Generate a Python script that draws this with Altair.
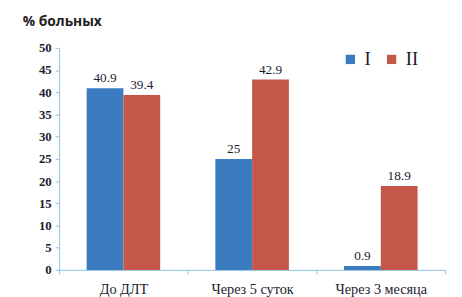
import altair as alt
import pandas as pd

categories = ["До ДЛТ", "Через 5 суток", "Через 3 месяца"]
series_names = ["I", "II"]
values_I = [40.9, 25, 0.9]
values_II = [39.4, 42.9, 18.9]
labels_I = ["40.9", "25", "0.9"]
labels_II = ["39.4", "42.9", "18.9"]

rows = []
for c, v, l in zip(categories, values_I, labels_I):
    rows.append({"cat": c, "grp": "I", "val": v, "lab": l})
for c, v, l in zip(categories, values_II, labels_II):
    rows.append({"cat": c, "grp": "II", "val": v, "lab": l})
df = pd.DataFrame(rows)

serif = "'Liberation Serif', 'Times New Roman', serif"
axis_col = "#8cc4e6"
text_col = "#1c1c30"

x = alt.X("cat:N", sort=categories, title=None,
          scale=alt.Scale(paddingInner=0, paddingOuter=0),
          axis=alt.Axis(labelAngle=0, tickBand="extent", labelFont=serif,
                        labelFontSize=14.5, labelColor=text_col, labelPadding=9,
                        domainColor=axis_col, tickColor=axis_col, tickSize=4))
xo = alt.XOffset("grp:N", sort=series_names,
                 scale=alt.Scale(paddingInner=0, paddingOuter=0.75))
y = alt.Y("val:Q", title=None,
          scale=alt.Scale(domain=[0, 50], nice=False),
          axis=alt.Axis(values=list(range(0, 51, 5)), grid=False, labelFont=serif,
                        labelFontSize=13, labelFontWeight="bold", labelColor=text_col,
                        domainColor=axis_col, tickColor=axis_col, tickSize=4,
                        labelPadding=4))
color = alt.Color("grp:N", sort=series_names,
                  scale=alt.Scale(domain=series_names, range=["#3b7cc0", "#c4574a"]),
                  legend=alt.Legend(title=None, orient="none", direction="horizontal",
                                    legendX=287, legendY=2, symbolType="square",
                                    symbolSize=90, symbolStrokeWidth=0,
                                    labelFont=serif, labelFontSize=19,
                                    labelColor=text_col, columnPadding=11,
                                    symbolOffset=0, labelOffset=5))

base = alt.Chart(df)
bars = base.mark_bar().encode(x=x, xOffset=xo, y=y, color=color)
texts = base.mark_text(dy=-10, font=serif, fontSize=13.5, color=text_col).encode(
    x=x, xOffset=xo, y=y, text="lab:N")

chart = alt.layer(bars, texts).properties(
    width=393, height=226,
    padding={"left": 52, "top": 38, "right": 9, "bottom": 25},
    autosize=alt.AutoSizeParams(type="none"),
    title=alt.TitleParams("% больных", anchor="start", frame="group", dx=-37,
                          offset=13, font="Open Sans", fontSize=14,
                          fontWeight="bold", color="#222222"),
).configure_view(stroke=None)

chart.save("out.html", embed_options={"renderer": "svg", "actions": False})
